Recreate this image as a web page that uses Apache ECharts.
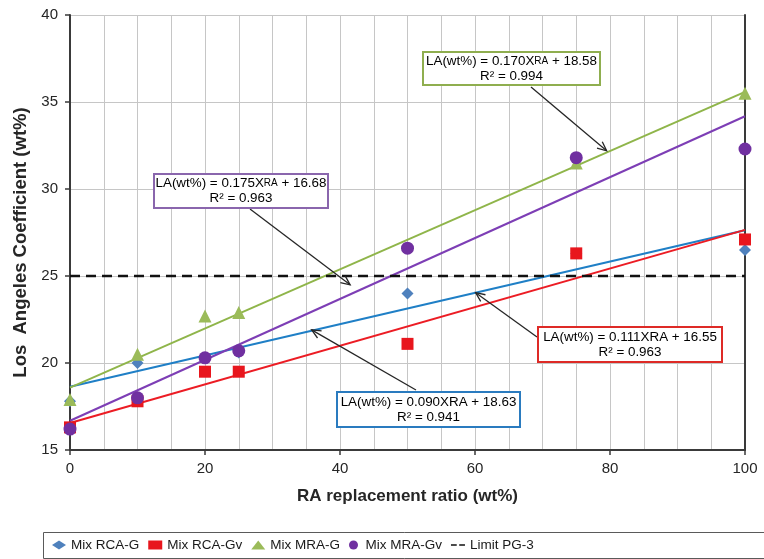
<!DOCTYPE html>
<html>
<head>
<meta charset="utf-8">
<script src="https://cdn.jsdelivr.net/npm/echarts@6/dist/echarts.min.js"></script>
<style>
html, body { margin: 0; padding: 0; background: #ffffff; }
#chart { width: 764px; height: 559px; }
</style>
</head>
<body>
<div id="chart"></div>
<script>
// RA replacement ratio (wt%)
const ratios = [0, 10, 20, 25, 50, 75, 100];
// Los Angeles coefficient (wt%) per mix
const mixRcaG  = [17.8, 20.0, 20.3, 20.6, 24.0, 26.3, 26.5];
const mixRcaGv = [16.3, 17.8, 19.5, 19.5, 21.1, 26.3, 27.1];
const mixMraG  = [17.9, 20.5, 22.7, 22.9, null, 31.5, 35.5];
const mixMraGv = [16.2, 18.0, 20.3, 20.7, 26.6, 31.8, 32.3];
// PG-3 limit
const limitPG3 = 25;
// linear fits: [slope, intercept, R²]
const fitRcaG  = [0.090, 18.63, 0.941];
const fitRcaGv = [0.111, 16.55, 0.963];
const fitMraG  = [0.170, 18.58, 0.994];
const fitMraGv = [0.175, 16.68, 0.963];
// axis ranges
const xRange = [0, 100];
const yRange = [15, 40];

const pairs = (ys) => ratios.map((x, i) => [x, ys[i]]).filter(p => p[1] !== null);
const fitLine = (f) => xRange.map(x => [x, +(f[0] * x + f[1]).toFixed(3)]);

const TXT = '#262626';
const AXIS = '#3a3a3a';
const GRIDC = '#c6c6c6';

const chart = echarts.init(document.getElementById('chart'), null, { renderer: 'canvas' });

const trend = (name, f, color) => ({
  name: name, type: 'line', data: fitLine(f), symbol: 'none', silent: true,
  lineStyle: { color: color, width: 2 }, z: 2, animation: false
});
const pts = (name, ys, symbol, size, color) => ({
  name: name, type: 'scatter', data: pairs(ys), symbol: symbol, symbolSize: size,
  itemStyle: { color: color, opacity: 1 }, z: 5, animation: false
});

const option = {
  backgroundColor: '#ffffff',
  animation: false,
  grid: { left: 70, right: 19, top: 15, bottom: 109, containLabel: false, outerBoundsMode: 'none' },
  xAxis: {
    type: 'value', min: xRange[0], max: xRange[1], interval: 20,
    name: 'RA replacement ratio (wt%)', nameLocation: 'middle', nameGap: 38,
    nameTextStyle: { fontFamily: 'Liberation Sans, Arial', fontSize: 17, fontWeight: 'bold', color: TXT },
    axisLine: { show: true, onZero: false, lineStyle: { color: AXIS, width: 2 } },
    axisTick: { show: true, length: 5, lineStyle: { color: AXIS, width: 1.5 } },
    axisLabel: { fontFamily: 'Liberation Sans, Arial', fontSize: 15, color: TXT, margin: 11 },
    splitLine: { show: true, lineStyle: { color: GRIDC, width: 1 } },
    minorTick: { show: false, splitNumber: 4 },
    minorSplitLine: { show: true, lineStyle: { color: GRIDC, width: 1 } }
  },
  yAxis: [{
    type: 'value', min: yRange[0], max: yRange[1], interval: 5,
    name: 'Los  Angeles Coefficient (wt%)', nameLocation: 'middle', nameGap: 40,
    nameTextStyle: { fontFamily: 'Liberation Sans, Arial', fontSize: 18.5, fontWeight: 'bold', color: TXT, padding: [0, 20, 0, 0] },
    axisLine: { show: true, onZero: false, lineStyle: { color: AXIS, width: 2 } },
    axisTick: { show: true, length: 5, lineStyle: { color: AXIS, width: 1.5 } },
    axisLabel: { fontFamily: 'Liberation Sans, Arial', fontSize: 15, color: TXT, margin: 12 },
    splitLine: { show: true, lineStyle: { color: GRIDC, width: 1 } }
  }, {
    type: 'value', min: yRange[0], max: yRange[1], interval: 5, position: 'right',
    axisLine: { show: true, onZero: false, lineStyle: { color: AXIS, width: 2 } },
    axisTick: { show: false }, axisLabel: { show: false }, splitLine: { show: false }
  }],
  legend: {
    left: 43, top: 532, width: 1400, orient: 'horizontal',
    padding: [6, 10, 6, 9],
    itemWidth: 14, itemHeight: 9, itemGap: 9,
    textStyle: { fontFamily: 'Liberation Sans, Arial', fontSize: 13.5, color: '#1a1a1a' },
    data: [
      { name: 'Mix RCA-G', icon: 'diamond' },
      { name: 'Mix RCA-Gv', icon: 'rect' },
      { name: 'Mix MRA-G', icon: 'triangle' },
      { name: 'Mix MRA-Gv', icon: 'circle' },
      { name: 'Limit PG-3', icon: 'path://M0,0h7v2h-7z M10,0h7v2h-7z', itemStyle: { color: '#111111' } }
    ],
    selectedMode: false
  },
  series: [
    trend('fitRcaG', fitRcaG, '#1f7fc6'),
    trend('fitRcaGv', fitRcaGv, '#ec1c24'),
    trend('fitMraG', fitMraG, '#8fb54a'),
    trend('fitMraGv', fitMraGv, '#7d3eb5'),
    {
      name: 'Limit PG-3', type: 'line', data: xRange.map(x => [x, limitPG3]), symbol: 'none',
      itemStyle: { color: '#111111' },
      lineStyle: { color: '#111111', width: 2.5, type: [10, 6] }, z: 3, silent: true
    },
    pts('Mix RCA-G', mixRcaG, 'diamond', 12, '#4f81bd'),
    pts('Mix RCA-Gv', mixRcaGv, 'rect', 12, '#e8161d'),
    pts('Mix MRA-G', mixMraG, 'triangle', 13, '#9bbb59'),
    pts('Mix MRA-Gv', mixMraGv, 'circle', 13, '#7030a0')
  ]
};
chart.setOption(option);

// ---- equation call-outs with arrows ----
const fmt = (v, d) => v.toFixed(d);
const TF = 'Liberation Sans, Arial';
function eqText(f, smallRA) {
  const x = smallRA ? '{a|X}{s|RA}' : '{a|XRA}';
  return '{a|LA(wt%) = ' + fmt(f[0], 3) + '}' + x + '{a| + ' + fmt(f[1], 2) + '}\n{a|R² = ' + fmt(f[2], 3) + '}';
}
function callout(box, f, smallRA, color) {
  return [{
    type: 'rect', silent: true, z: 20,
    shape: { x: box[0], y: box[1], width: box[2], height: box[3] },
    style: { fill: '#ffffff', stroke: color, lineWidth: 2 }
  }, {
    type: 'text', silent: true, z: 21,
    x: box[0] + box[2] / 2, y: box[1] + box[3] / 2,
    style: {
      text: eqText(f, smallRA), align: 'center', verticalAlign: 'middle',
      rich: {
        a: { fontFamily: TF, fontSize: 13.4, color: TXT, lineHeight: 15 },
        s: { fontFamily: TF, fontSize: 10, color: TXT, lineHeight: 15 }
      }
    }
  }];
}
function arrow(tail, tipData) {
  const tip = chart.convertToPixel({ gridIndex: 0 }, tipData);
  const ang = Math.atan2(tip[1] - tail[1], tip[0] - tail[0]);
  const L = 10, spread = 0.42;
  const p1 = [tip[0] - L * Math.cos(ang - spread), tip[1] - L * Math.sin(ang - spread)];
  const p2 = [tip[0] - L * Math.cos(ang + spread), tip[1] - L * Math.sin(ang + spread)];
  return [{
    type: 'line', silent: true, z: 19,
    shape: { x1: tail[0], y1: tail[1], x2: tip[0], y2: tip[1] },
    style: { stroke: '#262626', lineWidth: 1.3 }
  }, {
    type: 'polyline', silent: true, z: 19,
    shape: { points: [p1, tip, p2] },
    style: { stroke: '#262626', lineWidth: 1.3, fill: null }
  }];
}
const onFit = (f, x, dy) => [x, f[0] * x + f[1] + (dy || 0)];

const graphics = [].concat(
  // legend frame, running past the right edge of the canvas
  [{
    type: 'rect', silent: true, z: -1,
    shape: { x: 43.5, y: 532.5, width: 800, height: 26 },
    style: { fill: null, stroke: '#5a5a5a', lineWidth: 1 }
  }],
  arrow([531, 87], onFit(fitMraG, 79.5, 0.1)),
  arrow([250, 209], onFit(fitMraGv, 41.5, 0.55)),
  arrow([416, 390], onFit(fitRcaG, 35.8, 0.05)),
  arrow([537, 337], onFit(fitRcaG, 60.1, 0.0)),
  callout([423, 52, 177, 33], fitMraG, true, '#8fae4f'),
  callout([154, 174, 174, 34], fitMraGv, true, '#8a66ad'),
  callout([337, 392, 183, 35], fitRcaG, false, '#2a7bbf'),
  callout([538, 327, 184, 35], fitRcaGv, false, '#de2a26')
);
chart.setOption({ graphic: graphics });
</script>
</body>
</html>
